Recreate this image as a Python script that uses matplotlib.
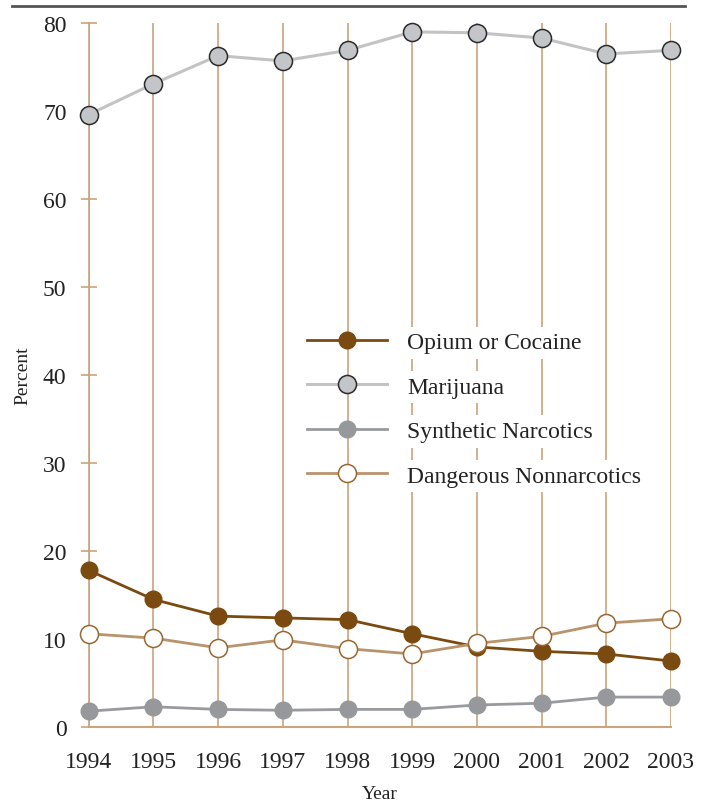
import matplotlib
matplotlib.use("Agg")
import matplotlib.pyplot as plt
from matplotlib.lines import Line2D

years = [1994, 1995, 1996, 1997, 1998, 1999, 2000, 2001, 2002, 2003]
opium_cocaine = [17.8, 14.5, 12.6, 12.4, 12.2, 10.6, 9.1, 8.6, 8.3, 7.5]
marijuana = [69.6, 73.1, 76.3, 75.7, 76.9, 79.0, 78.9, 78.3, 76.5, 76.9]
synthetic = [1.8, 2.3, 2.0, 1.9, 2.0, 2.0, 2.5, 2.7, 3.4, 3.4]
dangerous = [10.6, 10.1, 9.0, 9.9, 8.9, 8.3, 9.5, 10.3, 11.8, 12.3]
yticks = [0, 10, 20, 30, 40, 50, 60, 70, 80]

plt.rcParams['font.family'] = ['Liberation Serif', 'DejaVu Serif']
TAN = '#C9A47C'

fig = plt.figure(figsize=(7.1, 8.03), dpi=100)
ax = fig.add_axes([0.125, 0.0934, 0.82, 0.8766])

ax.set_xlim(1994, 2003)
ax.set_ylim(0, 80)

for yr in years:
    ax.axvline(yr, color=TAN, lw=1.2, zorder=1)

ax.plot(years, opium_cocaine, color='#7A4A10', lw=2, marker='o', ms=12,
        mfc='#7A4A10', mec='#7A4A10', mew=1, label='Opium or Cocaine', clip_on=False, zorder=5)
ax.plot(years, marijuana, color='#C3C3C3', lw=2.2, marker='o', ms=13,
        mfc='#C4C5C9', mec='#2A2A2A', mew=1.1, label='Marijuana', clip_on=False, zorder=4)
ax.plot(years, synthetic, color='#999A9E', lw=2, marker='o', ms=12,
        mfc='#97989C', mec='#97989C', mew=1, label='Synthetic Narcotics', clip_on=False, zorder=4)
ax.plot(years, dangerous, color='#B8936B', lw=2, marker='o', ms=13,
        mfc='white', mec='#9A6630', mew=1.1, label='Dangerous Nonnarcotics', clip_on=False, zorder=6)

for s in ['top', 'right']:
    ax.spines[s].set_visible(False)
ax.spines['left'].set_color(TAN)
ax.spines['bottom'].set_color(TAN)
ax.spines['left'].set_linewidth(1.2)
ax.spines['bottom'].set_linewidth(1.5)

ax.set_yticks(yticks)
ax.set_yticklabels([str(v) for v in yticks])
ax.tick_params(axis='y', direction='inout', length=12, width=1.2, color=TAN,
               labelsize=17, pad=10, labelcolor='#222222')
ax.set_xticks(years)
ax.set_xticklabels([str(y) for y in years])
ax.tick_params(axis='x', length=0, labelsize=17, pad=17, labelcolor='#222222')

ax.set_ylabel('Percent', fontsize=14, color='#222222', labelpad=8)
ax.set_xlabel('Year', fontsize=14, color='#222222', labelpad=10)

leg = ax.legend(loc='upper left', bbox_to_anchor=(0.3585, 0.575), frameon=False,
                fontsize=17, handlelength=3.4, handletextpad=0.85, labelspacing=0.97,
                borderaxespad=0)
for t in leg.get_texts():
    t.set_color('#222222')
    t.set_bbox(dict(facecolor='white', edgecolor='none', pad=4))

fig.add_artist(Line2D([0.017, 0.965], [0.991, 0.991], color='#555555', lw=2,
                      transform=fig.transFigure))

fig.savefig('out.png', dpi=100)
